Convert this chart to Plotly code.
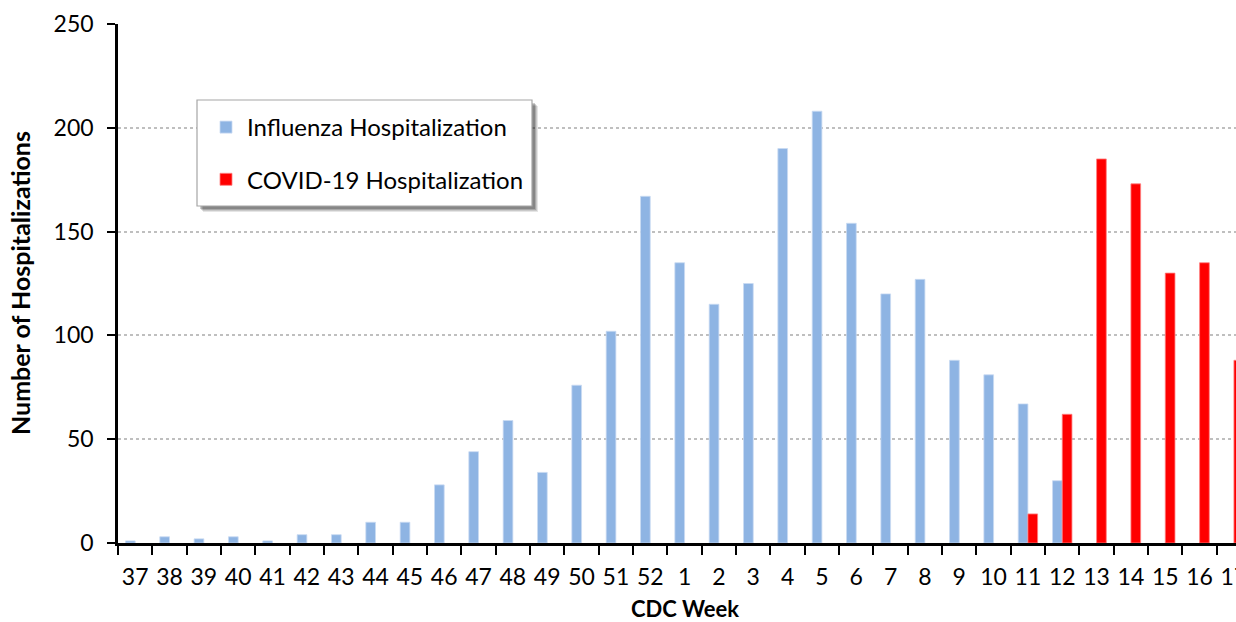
import plotly.graph_objects as go

# CDC weeks of the season (week 37 through week 17 of the next year)
weeks = [str(w) for w in range(37, 53)] + [str(w) for w in range(1, 18)]

# Weekly hospitalization counts
influenza = [1, 3, 2, 3, 1, 4, 4, 10, 10, 28, 44, 59, 34, 76, 102, 167,
             135, 115, 125, 190, 208, 154, 120, 127, 88, 81, 67, 30,
             None, None, None, None, None]
covid = [None] * 26 + [14, 62, 185, 173, 130, 135, 88]

y_ticks = [0, 50, 100, 150, 200, 250]

FONT = "Lato"
W, H = 1236, 622
ML, MR, MT, MB = 118, 0, 24, 79

fig = go.Figure()
fig.add_trace(go.Bar(
    x=weeks, y=influenza, name="Influenza Hospitalization",
    marker=dict(color="#8EB4E3", line=dict(color="#C9DBF2", width=0.8)),
    legendgroup="flu",
))
fig.add_trace(go.Bar(
    x=weeks, y=covid, name="COVID-19 Hospitalization",
    marker=dict(color="#FF0000", line=dict(color="#FF8080", width=0.8)),
    legendgroup="covid",
))

# pixel -> paper helpers for the legend frame
pw = W - ML - MR
ph = H - MT - MB
def px_x(px):
    return (px - ML) / pw
def px_y(py):
    return (H - MB - py) / ph

box = (197, 100, 532, 206)
shapes = []
# soft drop shadow behind the legend frame
for off, op in [(6, 0.10), (5, 0.12), (4, 0.16), (3, 0.2)]:
    shapes.append(dict(
        type="rect", xref="paper", yref="paper", layer="above",
        x0=px_x(box[0] + off), x1=px_x(box[2] + off),
        y0=px_y(box[1] + off), y1=px_y(box[3] + off),
        line=dict(width=0), fillcolor=f"rgba(0,0,0,{op})",
    ))
shapes.append(dict(
    type="rect", xref="paper", yref="paper", layer="above",
    x0=px_x(box[0]), x1=px_x(box[2]), y0=px_y(box[1]), y1=px_y(box[3]),
    line=dict(color="#A6A6A6", width=1.2), fillcolor="white",
))

fig.update_layout(
    width=W, height=H,
    margin=dict(l=ML, r=MR, t=MT, b=MB, pad=0, autoexpand=False),
    paper_bgcolor="white", plot_bgcolor="white",
    barmode="group", bargap=0.435, bargroupgap=0,
    font=dict(family=FONT, size=23, color="black"),
    showlegend=True,
    legend=dict(
        x=px_x(205), y=px_y(105), xanchor="left", yanchor="top",
        xref="paper", yref="paper",
        bgcolor="rgba(0,0,0,0)", borderwidth=0,
        font=dict(family=FONT, size=24, color="black"),
        tracegroupgap=18, traceorder="grouped", itemwidth=32,
    ),
    shapes=shapes,
    xaxis=dict(
        type="category", categoryorder="array", categoryarray=weeks,
        range=[-0.5, 32.06], automargin=False, tickangle=0,
        showline=True, linecolor="black", linewidth=2.5,
        ticks="outside", tickson="boundaries", ticklen=9, tickwidth=2,
        tickcolor="black", showgrid=False, zeroline=False,
        tickfont=dict(family=FONT, size=23),
        ticklabelstandoff=12,
    ),
    yaxis=dict(
        range=[0, 250], tickvals=y_ticks, automargin=False,
        showline=True, linecolor="black", linewidth=2.5,
        ticks="outside", ticklen=8, tickwidth=2, tickcolor="black",
        showgrid=True, gridcolor="#BFBFBF", gridwidth=1.5, griddash="dot",
        zeroline=False,
        tickfont=dict(family=FONT, size=23),
        ticklabelstandoff=9,
    ),
    annotations=[
        dict(text="<b>CDC Week</b>", xref="paper", yref="paper",
             x=px_x(685), y=px_y(608), xanchor="center", yanchor="middle",
             showarrow=False, font=dict(family=FONT, size=22)),
        dict(text="<b>Number of Hospitalizations</b>", xref="paper", yref="paper",
             x=px_x(20), y=px_y(283), xanchor="center", yanchor="middle",
             textangle=-90, showarrow=False, font=dict(family=FONT, size=25)),
    ],
)

fig.write_html("out.html")
